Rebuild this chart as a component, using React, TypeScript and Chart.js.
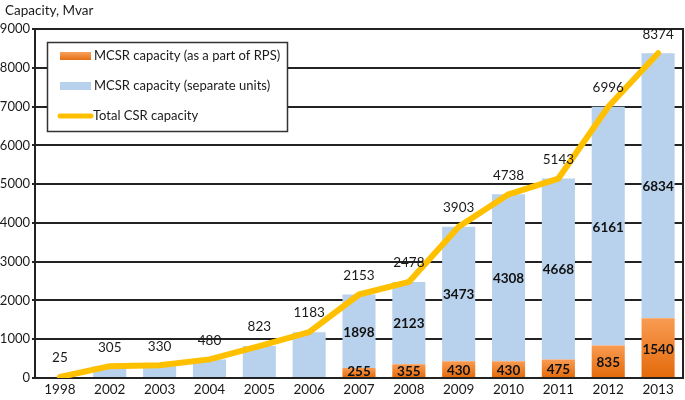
import React, { useEffect, useRef } from 'react';
import { Chart, registerables } from 'chart.js';
Chart.register(...registerables);

const years = ['1998', '2002', '2003', '2004', '2005', '2006', '2007', '2008', '2009', '2010', '2011', '2012', '2013'];
const rpsPart = [0, 0, 0, 0, 0, 0, 255, 355, 430, 430, 475, 835, 1540];
const separateUnits = [25, 305, 330, 480, 823, 1183, 1898, 2123, 3473, 4308, 4668, 6161, 6834];
const totalCapacity = [25, 305, 330, 480, 823, 1183, 2153, 2478, 3903, 4738, 5143, 6996, 8374];
const seriesNames = ['MCSR capacity (as a part of RPS)', 'MCSR capacity (separate units)', 'Total CSR capacity'];
const yAxisTitle = 'Capacity, Mvar';
const yMax = 9000;
const yStep = 1000;
const separateLabelFrom = 6;

const FONT = 'Lato, "Noto Sans", sans-serif';
const ORANGE = '#EF7B26';
const BLUE = '#B8D1EC';
const YELLOW = '#FFC000';
const INK = '#111';
const TXT = '#1a1a1a';

const decorPlugin = {
  id: 'decor',
  afterDatasetsDraw(chart: any) {
    const { ctx, chartArea, scales } = chart;
    ctx.save();
    ctx.strokeStyle = '#222';
    ctx.lineWidth = 2;
    ctx.beginPath();
    ctx.moveTo(chartArea.left, chartArea.top);
    ctx.lineTo(chartArea.right, chartArea.top);
    ctx.lineTo(chartArea.right, chartArea.bottom);
    ctx.stroke();

    ctx.textAlign = 'center';
    ctx.textBaseline = 'middle';
    const m0 = chart.getDatasetMeta(0);
    const m1 = chart.getDatasetMeta(1);
    const m2 = chart.getDatasetMeta(2);
    ctx.font = `bold 13.5px ${FONT}`;
    ctx.fillStyle = INK;
    rpsPart.forEach((v, i) => {
      if (v <= 0) return;
      const el = m0.data[i];
      const y0 = scales.y.getPixelForValue(0);
      const y1 = scales.y.getPixelForValue(v);
      ctx.fillText(String(v), el.x, Math.min((y0 + y1) / 2 + 1, y0 - 6));
    });
    separateUnits.forEach((v, i) => {
      if (i < separateLabelFrom) return;
      const el = m1.data[i];
      const base = rpsPart[i];
      const y0 = scales.y.getPixelForValue(base);
      const y1 = scales.y.getPixelForValue(base + v);
      ctx.fillText(String(v), el.x, (y0 + y1) / 2 + 1);
    });
    ctx.font = `13.5px ${FONT}`;
    ctx.fillStyle = TXT;
    totalCapacity.forEach((v, i) => {
      const el = m2.data[i];
      ctx.fillText(String(v), el.x, el.y - 19);
    });

    ctx.textAlign = 'left';
    ctx.fillText(yAxisTitle, 5, 11);

    const lx = 47.5, ly = 42.5, lw = 240, lh = 89;
    ctx.fillStyle = '#fff';
    ctx.fillRect(lx, ly, lw, lh);
    ctx.strokeStyle = '#333';
    ctx.lineWidth = 1.5;
    ctx.strokeRect(lx, ly, lw, lh);
    const g = ctx.createLinearGradient(0, 52, 0, 61);
    g.addColorStop(0, '#F7A15E');
    g.addColorStop(1, '#E36A0A');
    ctx.fillStyle = g;
    ctx.fillRect(60, 52, 31, 8);
    ctx.fillStyle = BLUE;
    ctx.fillRect(60, 82, 31, 8);
    ctx.strokeStyle = YELLOW;
    ctx.lineWidth = 5;
    ctx.lineCap = 'round';
    ctx.beginPath();
    ctx.moveTo(60, 116);
    ctx.lineTo(91, 116);
    ctx.stroke();
    ctx.fillStyle = TXT;
    ctx.font = `13px ${FONT}`;
    ctx.textAlign = 'left';
    ctx.fillText(seriesNames[0], 94, 56);
    ctx.fillText(seriesNames[1], 94, 86);
    ctx.fillText(seriesNames[2], 93, 116);
    ctx.restore();
  },
};

export default function App() {
  const ref = useRef<HTMLCanvasElement>(null);
  useEffect(() => {
    document.body.style.margin = '0';
    const canvas = ref.current!;
    const orangeFill = (c: any) => {
      const chart = c.chart;
      const { chartArea, scales } = chart;
      if (!chartArea || c.type !== 'data' || !scales.y) return ORANGE;
      const v = c.raw as number;
      const y0 = scales.y.getPixelForValue(0);
      const y1 = scales.y.getPixelForValue(v);
      if (!(y0 > y1 + 1)) return ORANGE;
      const g = chart.ctx.createLinearGradient(0, y1, 0, y0);
      g.addColorStop(0, '#F99B52');
      g.addColorStop(1, '#E36A0A');
      return g;
    };
    const chart = new Chart(canvas, {
      type: 'bar',
      data: {
        labels: years,
        datasets: [
          {
            type: 'bar',
            label: seriesNames[0],
            data: rpsPart,
            backgroundColor: orangeFill,
            categoryPercentage: 0.8,
            barPercentage: 0.83,
            order: 1,
          },
          {
            type: 'bar',
            label: seriesNames[1],
            data: separateUnits,
            backgroundColor: BLUE,
            categoryPercentage: 0.8,
            barPercentage: 0.83,
            order: 1,
          },
          {
            type: 'line',
            label: seriesNames[2],
            data: totalCapacity,
            borderColor: YELLOW,
            borderWidth: 6,
            borderCapStyle: 'round',
            borderJoinStyle: 'round',
            pointRadius: 0,
            tension: 0,
            stack: 'total',
            order: 0,
          } as any,
        ],
      },
      options: {
        animation: false,
        responsive: false,
        devicePixelRatio: 1,
        layout: { padding: { top: 29, right: 2, left: 0, bottom: 0 } },
        plugins: { legend: { display: false }, tooltip: { enabled: false } },
        scales: {
          x: {
            stacked: true,
            grid: { display: false, drawTicks: false },
            border: { color: '#222', width: 2 },
            ticks: { color: TXT, font: { family: FONT, size: 13.5 }, padding: 4 },
            afterFit: (s: any) => { s.height = 22; },
          },
          y: {
            stacked: true,
            min: 0,
            max: yMax,
            ticks: {
              stepSize: yStep,
              color: TXT,
              font: { family: FONT, size: 13 },
              padding: 2,
              callback: (v: any) => String(v),
            },
            grid: { color: '#222', lineWidth: 2, tickLength: 3 },
            border: { color: '#222', width: 2 },
            afterFit: (s: any) => { s.width = 35; },
          },
        },
      },
      plugins: [decorPlugin],
    });
    return () => chart.destroy();
  }, []);
  return (
    <div style={{ width: 685, height: 400 }}>
      <canvas ref={ref} width={685} height={400} style={{ display: 'block' }} />
    </div>
  );
}
